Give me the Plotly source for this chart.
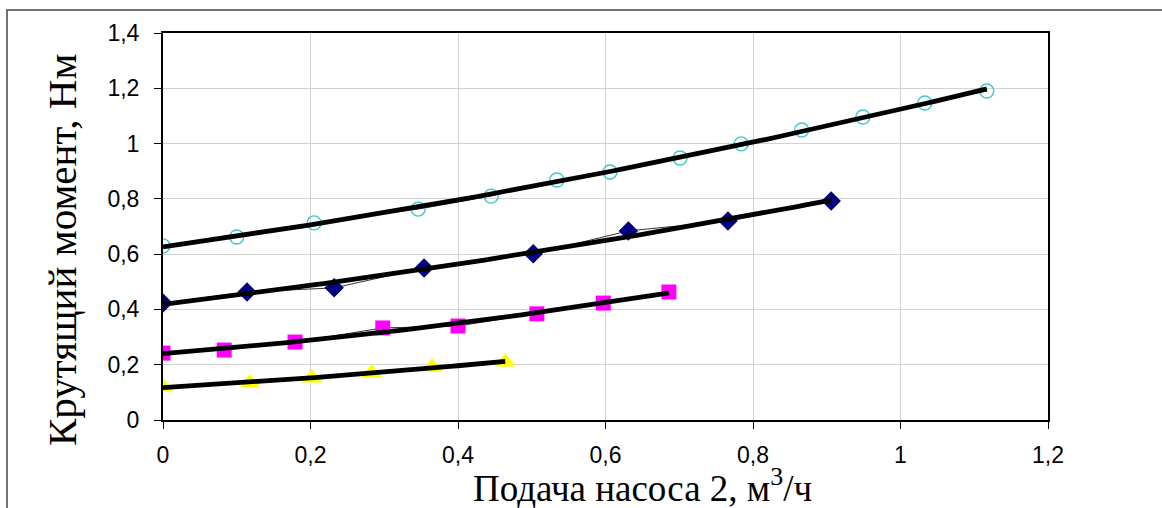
import numpy as np
import plotly.graph_objects as go

# Pump 2 flow rate (m3/h) and torque (N·m) for four operating modes
flow_cyan = [0, 0.100, 0.205, 0.346, 0.445, 0.534, 0.606, 0.701, 0.784, 0.866, 0.949, 1.033, 1.117]
torque_cyan = [0.630, 0.662, 0.713, 0.763, 0.810, 0.868, 0.897, 0.948, 0.999, 1.049, 1.096, 1.147, 1.190]

flow_navy = [0, 0.114, 0.232, 0.354, 0.502, 0.631, 0.766, 0.906]
torque_navy = [0.423, 0.463, 0.478, 0.550, 0.601, 0.684, 0.720, 0.792]

flow_magenta = [0, 0.083, 0.179, 0.298, 0.400, 0.507, 0.597, 0.686]
torque_magenta = [0.242, 0.253, 0.282, 0.333, 0.340, 0.384, 0.423, 0.463]

flow_yellow = [0, 0.118, 0.202, 0.283, 0.365, 0.464]
torque_yellow = [0.119, 0.134, 0.152, 0.170, 0.192, 0.210]

x_ticks = [0, 0.2, 0.4, 0.6, 0.8, 1.0, 1.2]
x_tick_labels = ["0", "0,2", "0,4", "0,6", "0,8", "1", "1,2"]
y_ticks = [0, 0.2, 0.4, 0.6, 0.8, 1.0, 1.2, 1.4]
y_tick_labels = ["0", "0,2", "0,4", "0,6", "0,8", "1", "1,2", "1,4"]

x_title = "Подача насоса 2, м<sup>3</sup>/ч"
y_title = "Крутящий момент, Нм"

series = [
    (flow_cyan, torque_cyan, dict(symbol="circle-open", size=14, color="#3cc8cc", line=dict(width=1.4, color="#3cc8cc"))),
    (flow_navy, torque_navy, dict(symbol="diamond", size=15, color="#000080")),
    (flow_magenta, torque_magenta, dict(symbol="square", size=15, color="#ff00ff")),
    (flow_yellow, torque_yellow, dict(symbol="triangle-up", size=18, color="#ffff00")),
]

fig = go.Figure()

# measured points joined by a thin line
for xs, ys, marker in series:
    fig.add_trace(go.Scatter(
        x=xs, y=ys, mode="lines+markers",
        line=dict(color="black", width=0.8),
        marker=marker, showlegend=False, hoverinfo="x+y",
    ))

# second-order polynomial trend for each series
for xs, ys, _ in series:
    coeffs = np.polyfit(xs, ys, 2)
    xf = np.linspace(min(xs), max(xs), 80)
    fig.add_trace(go.Scatter(
        x=xf, y=np.polyval(coeffs, xf), mode="lines",
        line=dict(color="black", width=4.8), showlegend=False, hoverinfo="skip",
    ))

W, H = 1162, 508
L, R, T, B = 163, 114, 33, 88
pw, ph = W - L - R, H - T - B

def px_x(p):
    return (p - L) / pw

def px_y(p):
    return (H - B - p) / ph

serif = "Liberation Serif, Times New Roman, serif"

axis_common = dict(
    showgrid=True, gridcolor="#d2d2d2", gridwidth=1.2,
    showline=True, linecolor="black", linewidth=2, mirror=True,
    ticks="outside", ticklen=7, tickcolor="black", tickwidth=1,
    zeroline=False, fixedrange=True,
)

fig.update_layout(
    width=W, height=H,
    margin=dict(l=L, r=R, t=T, b=B, pad=0),
    paper_bgcolor="white", plot_bgcolor="white",
    separators=", ",
    font=dict(family="Liberation Sans, Arial, sans-serif", size=23, color="black"),
    xaxis=dict(range=[0, 1.2], tickvals=x_ticks, ticktext=x_tick_labels,
               ticklabelstandoff=6, **axis_common),
    yaxis=dict(range=[0, 1.4], tickvals=y_ticks, ticktext=y_tick_labels,
               ticklabelstandoff=10, **axis_common),
    annotations=[
        dict(text=x_title, xref="paper", yref="paper",
             x=px_x(642), y=px_y(485), xanchor="center", yanchor="middle",
             showarrow=False, font=dict(family=serif, size=37)),
        dict(text=y_title, xref="paper", yref="paper", textangle=-90,
             x=px_x(62), y=px_y(250), xanchor="center", yanchor="middle",
             showarrow=False, font=dict(family=serif, size=41)),
    ],
    shapes=[dict(
        type="rect", xref="paper", yref="paper",
        x0=px_x(7), x1=px_x(1175), y0=px_y(525), y1=px_y(10),
        line=dict(color="#444444", width=1.5), layer="below",
    )],
)

fig.write_html("out.html")
